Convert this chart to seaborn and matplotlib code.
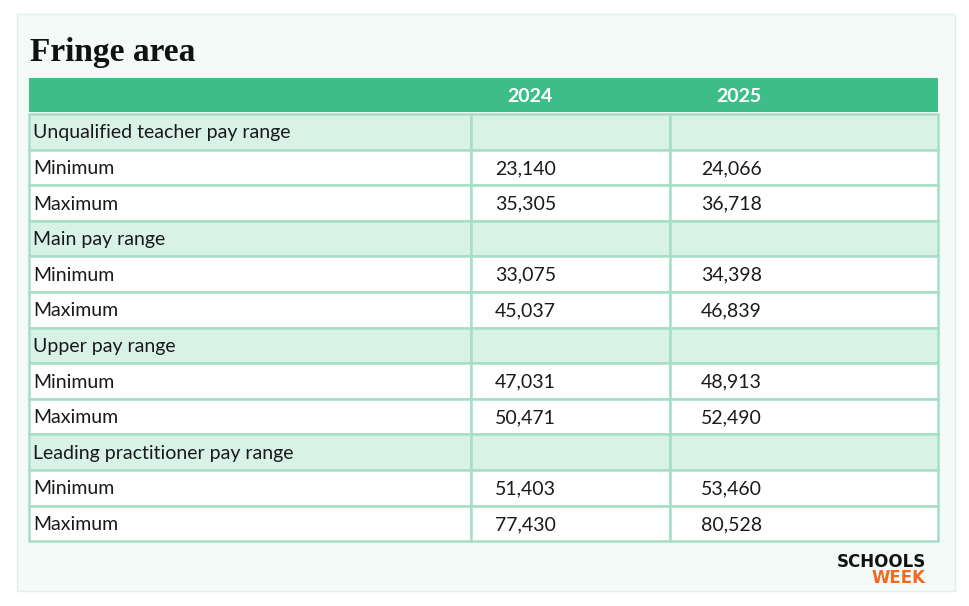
import matplotlib.pyplot as plt
from matplotlib.patches import Rectangle
import seaborn as sns

sns.set_theme(style="white")

title = "Fringe area"
years = ["2024", "2025"]
row_labels = ["Unqualified teacher pay range", "Minimum", "Maximum",
              "Main pay range", "Minimum", "Maximum",
              "Upper pay range", "Minimum", "Maximum",
              "Leading practitioner pay range", "Minimum", "Maximum"]
is_section = [True, False, False, True, False, False,
              True, False, False, True, False, False]
pay_2024 = ["", "23,140", "35,305", "", "33,075", "45,037",
            "", "47,031", "50,471", "", "51,403", "77,430"]
pay_2025 = ["", "24,066", "36,718", "", "34,398", "46,839",
            "", "48,913", "52,490", "", "53,460", "80,528"]

GREEN = "#3fbd89"
MINT = "#d9f2e7"
LINE = "#a6dfc6"
PANEL = "#f3faf7"
FONT = "Lato"

fig = plt.figure(figsize=(9.7, 6.06), dpi=100)
ax = fig.add_axes([0, 0, 1, 1])
ax.set_xlim(0, 970)
ax.set_ylim(606, 0)
ax.axis("off")

# panel
ax.add_patch(Rectangle((17, 14), 938, 577, facecolor=PANEL, edgecolor="#e3efe9", lw=1))
ax.text(30, 52, title, fontsize=24, fontweight="bold", family="Liberation Serif",
        va="center", ha="left", color="#111111")

col_edges = [29, 471, 670, 938]
head_top, head_h = 78, 34
row_top, row_h = 114, 35.6

# header
ax.add_patch(Rectangle((col_edges[0], head_top), col_edges[-1] - col_edges[0], head_h,
                       facecolor=GREEN, edgecolor="none"))
for x, yr in zip([530, 739], years):
    ax.text(x, head_top + head_h / 2 + 1, yr, color="white", fontsize=14,
            fontweight="bold", family=FONT, ha="center", va="center")

# body
for i, (lab, sec, a, b) in enumerate(zip(row_labels, is_section, pay_2024, pay_2025)):
    y0 = row_top + i * row_h
    for c in range(3):
        ax.add_patch(Rectangle((col_edges[c], y0), col_edges[c + 1] - col_edges[c], row_h,
                               facecolor=MINT if sec else "white", edgecolor=LINE, lw=1.8))
    yc = y0 + row_h / 2 + 1
    ax.text(33, yc, lab, fontsize=14, family=FONT, va="center", color="#1a1a1a")
    ax.text(495, yc, a, fontsize=14, family=FONT, va="center", color="#1a1a1a")
    ax.text(701, yc, b, fontsize=14, family=FONT, va="center", color="#1a1a1a")

# logo
ax.text(926, 562, "SCHOOLS", fontsize=12, fontweight="black", family="DejaVu Sans",
        ha="right", va="center", color="#111111")
ax.text(926, 578, "WEEK", fontsize=12, fontweight="black", family="DejaVu Sans",
        ha="right", va="center", color="#f26a21")

fig.savefig("out.png", dpi=100, facecolor="white")
